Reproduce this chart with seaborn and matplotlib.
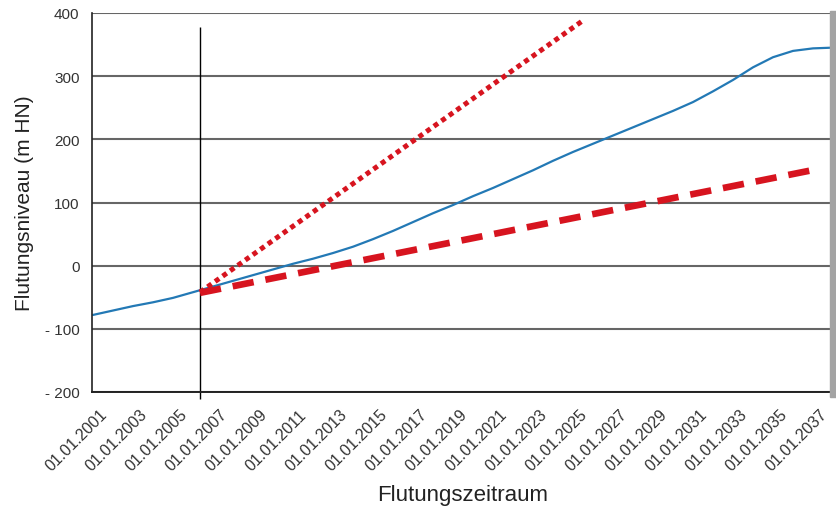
import matplotlib
matplotlib.use("Agg")
import matplotlib.pyplot as plt
import matplotlib.transforms as mtransforms
import seaborn as sns
import pandas as pd
from matplotlib.patches import Rectangle

# Flutungsniveau (m HN)
jahre = [2001, 2002, 2003, 2004, 2005, 2006, 2007, 2008, 2009, 2010,
         2011, 2012, 2013, 2014, 2015, 2016, 2017, 2018, 2019, 2020,
         2021, 2022, 2023, 2024, 2025, 2026, 2027, 2028, 2029, 2030,
         2031, 2032, 2033, 2034, 2035, 2036, 2037, 2037.85]
niveau = [-78, -71, -64, -58, -51, -42, -33, -24, -15, -6,
          3, 11, 20, 30, 42, 55, 69, 83, 96, 110,
          123, 137, 151, 166, 180, 193, 206, 219, 232, 245,
          259, 276, 294, 314, 330, 340, 344, 345]

# Prognosen ab Stichtag
schnell_jahre = [2006.35, 2025.45]
schnell_niveau = [-42, 387]
langsam_jahre = [2006.35, 2037.25]
langsam_niveau = [-43, 153]

stichtag = 2006.35
stichtag_von, stichtag_bis = -211, 378

tick_jahre = list(range(2001, 2038, 2))
tick_labels = [f"01.01.{j}" for j in tick_jahre]
y_ticks = [-200, -100, 0, 100, 200, 300, 400]
y_labels = ["- 200", "- 100", "0", "100", "200", "300", "400"]

blau = "#2379b5"
rot = "#d7141f"

sns.set_style("white")
plt.rcParams['font.family'] = ['Liberation Sans', 'DejaVu Sans']

fig = plt.figure(figsize=(8.37, 5.10), dpi=100)
ax = fig.add_axes([92 / 837, 1 - 393 / 510, (830 - 92) / 837, (393 - 14) / 510])

df = pd.DataFrame({'jahr': jahre, 'niveau': niveau})
sns.lineplot(data=df, x='jahr', y='niveau', ax=ax, color=blau, lw=1.6)
sns.lineplot(x=schnell_jahre, y=schnell_niveau, ax=ax, color=rot, lw=3.6,
             linestyle=(0, (1.0, 0.85)), dash_capstyle='butt')
sns.lineplot(x=langsam_jahre, y=langsam_niveau, ax=ax, color=rot, lw=4.8,
             linestyle=(0, (3.2, 1.8)), dash_capstyle='butt')

ax.vlines(stichtag, stichtag_von, stichtag_bis, color='black', lw=1.0,
          clip_on=False, zorder=1)

ax.set_xlim(2000.95, 2037.85)
ax.set_ylim(-200, 400)
ax.set_yticks(y_ticks)
ax.set_yticklabels(y_labels, fontsize=11, color='#333333')
ax.set_xticks(tick_jahre)
ax.set_xticklabels(tick_labels, fontsize=11.5, color='#333333', rotation=45,
                   ha='right', rotation_mode='anchor')
ax.tick_params(axis='both', direction='out', length=5, width=1.2, color='#333333')
ax.tick_params(axis='x', pad=4)
ax.tick_params(axis='y', pad=4)

# Beschriftungen etwas nach rechts versetzt wie im Original
shift = mtransforms.ScaledTranslation(6 / 100, -2 / 100, fig.dpi_scale_trans)
for lbl in ax.get_xticklabels():
    lbl.set_transform(lbl.get_transform() + shift)

ax.yaxis.grid(True, color='#666666', lw=1.5)
ax.set_axisbelow(True)
for s in ['top', 'right']:
    ax.spines[s].set_visible(False)
ax.spines['left'].set_color('#222222')
ax.spines['left'].set_linewidth(1.2)
ax.spines['bottom'].set_color('#222222')
ax.spines['bottom'].set_linewidth(1.4)

ax.set_xlabel("Flutungszeitraum", fontsize=16, color='#222222')
ax.set_ylabel("Flutungsniveau (m HN)", fontsize=15, color='#222222')
ax.xaxis.set_label_coords(0.502, -0.243)
ax.yaxis.set_label_coords(-0.078, 0.5)

fig.patches.append(Rectangle((830 / 837, 1 - 398 / 510), 7 / 837, (398 - 12) / 510,
                             transform=fig.transFigure, color='#a3a3a3'))

fig.savefig("out.png", dpi=100)
